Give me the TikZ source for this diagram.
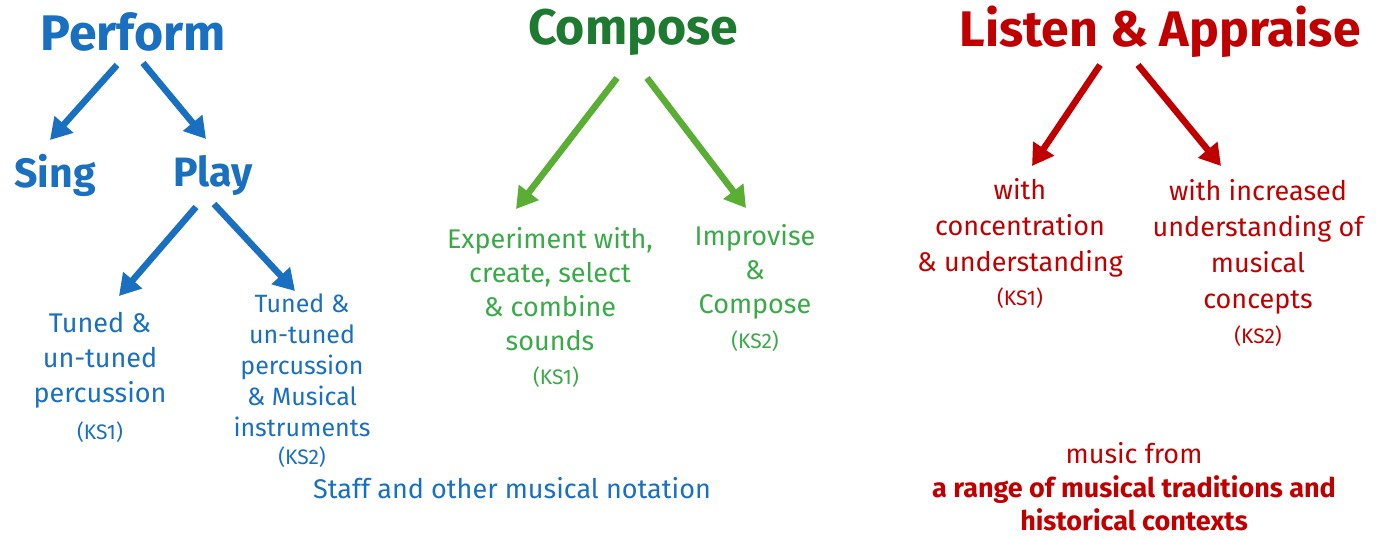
\documentclass[tikz,border=0pt]{standalone}
\usepackage{fontspec}
\setmainfont{Fira Sans}
\usetikzlibrary{arrows.meta}
\definecolor{pblue}{HTML}{1A70C0}
\definecolor{cdark}{HTML}{1E7A30}
\definecolor{carrow}{HTML}{5AAE34}
\definecolor{ctext}{HTML}{3AAA48}
\definecolor{lred}{HTML}{C00000}
\tikzset{
  title/.style={font=\bfseries\fontsize{50}{54}\selectfont, inner sep=0pt},
  sub/.style={font=\bfseries\fontsize{41}{44}\selectfont, inner sep=0pt},
  body/.style={font=\fontsize{27}{35}\selectfont, align=center, inner sep=0pt},
  bodysm/.style={font=\fontsize{25}{31}\selectfont, align=center, inner sep=0pt},
  ks/.style={font=\fontsize{21}{22}\selectfont, inner sep=0pt},
  bigarrow/.style={line width=6.5pt, -{Triangle[width=24pt,length=21pt]}},
}
\begin{document}
\begin{tikzpicture}[x=1pt,y=-1pt]
\useasboundingbox[fill=white] (0,0) rectangle (1383,538);
% Perform
\node[title, text=pblue] (perform) at (133,32) {Perform};
\node[sub, text=pblue] (sing) at (55,175) {Sing};
\node[sub, text=pblue] (play) at (213,175) {Play};
\coordinate (p1s) at (117,65); \coordinate (p1e) at (50,140);
\coordinate (p2s) at (143,63); \coordinate (p2e) at (206,139);
\draw[bigarrow, pblue] (p1s) -- (p1e);
\draw[bigarrow, pblue] (p2s) -- (p2e);
\coordinate (q1s) at (196,207); \coordinate (q1e) at (119,296);
\coordinate (q2s) at (214,204); \coordinate (q2e) at (295,291);
\draw[bigarrow, pblue] (q1s) -- (q1e);
\draw[bigarrow, pblue] (q2s) -- (q2e);
\node[body, text=pblue] (tuned1) at (100,360) {Tuned \&\\un-tuned\\percussion};
\node[ks, text=pblue] (ks1a) at (100,432) {(KS1)};
\node[bodysm, text=pblue] (tuned2) at (302,365) {Tuned \&\\un-tuned\\percussion\\\& Musical\\instruments};
\node[ks, text=pblue] (ks2a) at (302,457) {(KS2)};
\node[bodysm, text=pblue, font=\fontsize{27}{31}\selectfont] (staff) at (512,488) {Staff and other musical notation};
% Compose
\node[title, text=cdark] (compose) at (633,32) {Compose};
\coordinate (c1s) at (617,78); \coordinate (c1e) at (516,209);
\coordinate (c2s) at (647,78); \coordinate (c2e) at (746,208);
\draw[bigarrow, carrow] (c1s) -- (c1e);
\draw[bigarrow, carrow] (c2s) -- (c2e);
\node[body, text=ctext, font=\fontsize{27}{34}\selectfont] (exp) at (550,289) {Experiment with,\\create, select\\\& combine\\sounds};
\node[ks, text=ctext] (ks1b) at (556,377) {(KS1)};
\node[body, text=ctext, font=\fontsize{27}{34}\selectfont] (impr) at (755,272) {Improvise\\\&\\Compose};
\node[ks, text=ctext] (ks2b) at (755,341) {(KS2)};
% Listen
\node[title, text=lred] (listen) at (1160,32) {Listen \& Appraise};
\coordinate (l1s) at (1100,65); \coordinate (l1e) at (1032,166);
\coordinate (l2s) at (1138,65); \coordinate (l2e) at (1221,166);
\draw[bigarrow, lred] (l1s) -- (l1e);
\draw[bigarrow, lred] (l2s) -- (l2e);
\node[body, text=lred, font=\fontsize{27}{36}\selectfont] (conc) at (1020,228) {with\\concentration\\\& understanding};
\node[ks, text=lred] (ks1c) at (1020,298) {(KS1)};
\node[body, text=lred, font=\fontsize{27}{36}\selectfont] (incr) at (1258,247) {with increased\\understanding of\\musical\\concepts};
\node[ks, text=lred] (ks2c) at (1258,336) {(KS2)};
\node[bodysm, text=lred, font=\fontsize{27}{31}\selectfont] (musicfrom) at (1134,453) {music from};
\node[bodysm, text=lred, font=\bfseries\fontsize{27}{33}\selectfont] (range) at (1134,503) {a range of musical traditions and\\historical contexts};
\end{tikzpicture}
\end{document}
